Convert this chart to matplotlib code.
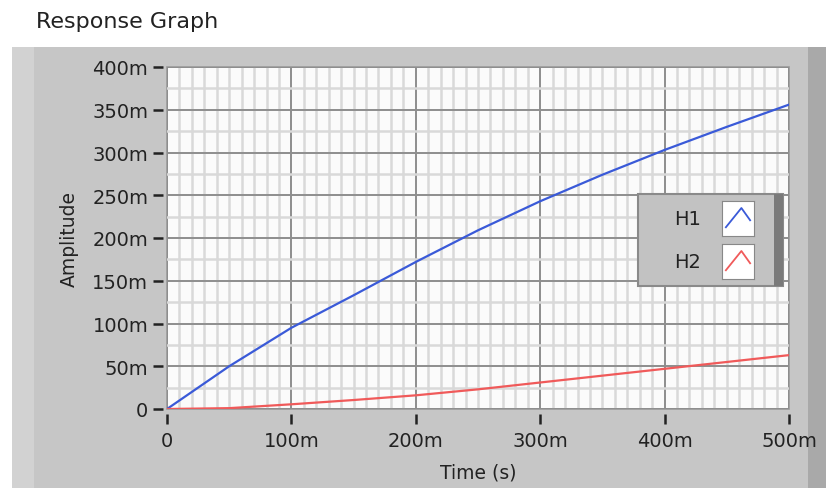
import matplotlib.pyplot as plt
from matplotlib.patches import Rectangle, FancyBboxPatch
from matplotlib.ticker import MultipleLocator, FuncFormatter

# data (time in s, amplitude)
t = [0, 0.05, 0.10, 0.15, 0.20, 0.25, 0.30, 0.35, 0.40, 0.45, 0.50]
h1 = [0, 0.050, 0.095, 0.133, 0.172, 0.209, 0.243, 0.274, 0.303, 0.330, 0.356]
h2 = [0, 0.001, 0.0055, 0.0105, 0.016, 0.023, 0.031, 0.039, 0.047, 0.055, 0.063]
names = ["H1", "H2"]
colors = ["#3a5ad8", "#f05a5a"]

fig = plt.figure(figsize=(8.26, 4.89), dpi=100, facecolor="white")

# grey LabVIEW-style panel
fig.patches.append(Rectangle((12/826, 0), 800/826, 1 - 48/489, transform=fig.transFigure,
                             facecolor="#c6c6c6", edgecolor="none", zorder=-3))
fig.patches.append(Rectangle((12/826, 0), 22/826, 1 - 48/489, transform=fig.transFigure,
                             facecolor="#d2d2d2", edgecolor="none", zorder=-2))
fig.patches.append(Rectangle((808/826, 0), 18/826, 1 - 48/489, transform=fig.transFigure,
                             facecolor="#a9a9a9", edgecolor="none", zorder=-2))

fig.text(36/826, 1 - 22/489, "Response Graph", fontsize=16, color="#222222",
         ha="left", va="center")

ax = fig.add_axes([167/826, 1 - 410/489, (789 - 167)/826, (410 - 68)/489])
ax.set_facecolor("#fbfbfb")
ax.patch.set_edgecolor("#9a9a9a")
ax.patch.set_linewidth(1.2)

ax.plot(t, h1, color=colors[0], lw=1.6, zorder=3)
ax.plot(t, h2, color=colors[1], lw=1.6, zorder=3)

ax.set_xlim(0, 0.5)
ax.set_ylim(0, 0.4)
ax.xaxis.set_major_locator(MultipleLocator(0.1))
ax.xaxis.set_minor_locator(MultipleLocator(0.01))
ax.yaxis.set_major_locator(MultipleLocator(0.05))
ax.yaxis.set_minor_locator(MultipleLocator(0.025))


def milli(v, pos):
    n = int(round(v * 1000))
    return "0" if n == 0 else "%dm" % n


ax.xaxis.set_major_formatter(FuncFormatter(milli))
ax.yaxis.set_major_formatter(FuncFormatter(milli))

ax.grid(which="minor", color="#d9d9d9", lw=1.8, zorder=0)
ax.grid(which="major", color="#8e8e8e", lw=1.4, zorder=1)
ax.set_axisbelow(True)

# ticks sit a few pixels away from the plot area
for s in ["top", "right", "bottom", "left"]:
    ax.spines[s].set_visible(False)
ax.spines["left"].set_position(("outward", 3))
ax.spines["bottom"].set_position(("outward", 3.5))

ax.tick_params(which="major", direction="out", length=7, width=1.8, color="#222222",
               labelsize=14, labelcolor="#222222")
ax.tick_params(axis="y", pad=3.5)
ax.tick_params(axis="x", pad=5)
ax.tick_params(which="minor", length=0)

ax.set_xlabel("Time (s)", fontsize=13.5, color="#222222", labelpad=9)
ax.set_ylabel("Amplitude", fontsize=13.5, color="#222222", labelpad=10)

# legend box like the LabVIEW plot legend
fig.patches.append(FancyBboxPatch((638/826, 1 - 287/489), 145/826, 92/489,
                                  boxstyle="square,pad=0", transform=fig.transFigure,
                                  facecolor="#c2c2c2", edgecolor="#8a8a8a", lw=1.5, zorder=5))
fig.patches.append(Rectangle((774/826, 1 - 287/489), 9/826, 92/489, transform=fig.transFigure,
                             facecolor="#7a7a7a", edgecolor="none", zorder=6))
for i, (name, c) in enumerate(zip(names, colors)):
    yc = 1 - (220 + i * 43) / 489
    fig.text(688/826, yc, name, fontsize=14, color="#222222", ha="center", va="center",
             zorder=7)
    iax = fig.add_axes([722/826, yc - 17/489, 32/826, 35/489], zorder=8)
    iax.set_facecolor("white")
    iax.plot([0, 1.6, 2.5], [0.25, 0.8, 0.45], color=c, lw=1.3)
    iax.set_xlim(-0.4, 2.9)
    iax.set_ylim(0, 1)
    iax.set_xticks([])
    iax.set_yticks([])
    for s in iax.spines.values():
        s.set_color("#888888")

fig.savefig("out.png", dpi=100, facecolor="white")
